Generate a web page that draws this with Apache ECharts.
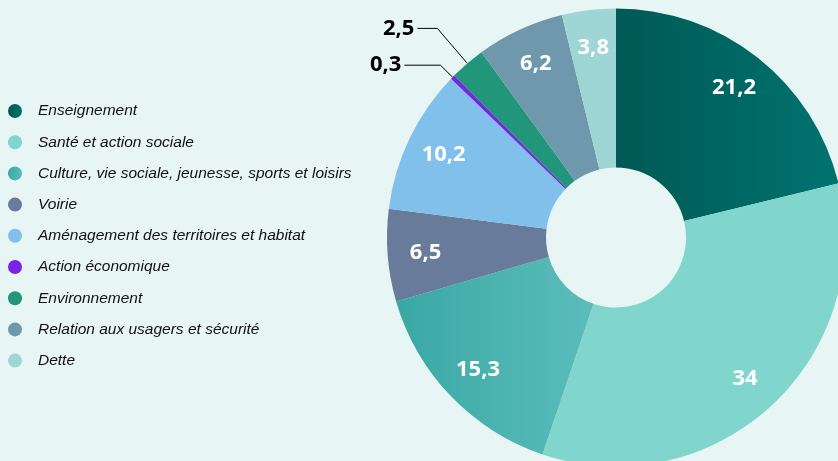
<!DOCTYPE html>
<html>
<head>
<meta charset="utf-8">
<script src="https://cdn.jsdelivr.net/npm/echarts@6/dist/echarts.min.js"></script>
<style>
  html, body { margin: 0; padding: 0; background: #e7f6f4; }
  #main { width: 838px; height: 461px; }
</style>
</head>
<body>
<div id="main"></div>
<script>
// données (en %)
var categories = [
  'Enseignement',
  'Santé et action sociale',
  'Culture, vie sociale, jeunesse, sports et loisirs',
  'Voirie',
  'Aménagement des territoires et habitat',
  'Action économique',
  'Environnement',
  'Relation aux usagers et sécurité',
  'Dette'
]
var values = [21.2, 34, 15.3, 6.5, 10.2, 0.3, 2.5, 6.2, 3.8]

// couleurs [gauche, droite] pour le dégradé horizontal
var colors = [
  ['#005955', '#00736f'],
  ['#80d5cc', '#80d5cc'],
  ['#39a8a4', '#5cbdbb'],
  ['#687b9a', '#687b9a'],
  ['#80c0ea', '#80c0ea'],
  ['#7a22e6', '#7a22e6'],
  ['#21967b', '#21967b'],
  ['#6f98ad', '#6f98ad'],
  ['#9ed6d5', '#9ed6d5']
]

function fmt(v) {
  return String(v).replace('.', ',')
}

function grad(c) {
  if (c[0] === c[1]) return c[0]
  return new echarts.graphic.LinearGradient(0, 0, 1, 0, [
    { offset: 0, color: c[0] },
    { offset: 1, color: c[1] }
  ])
}

var chart = echarts.init(document.getElementById('main'))

// les petites parts ont leur étiquette à l'extérieur
var pieData = categories.map(function (name, i) {
  var outside = values[i] < 3
  return {
    name: name,
    value: values[i],
    itemStyle: { color: grad(colors[i]) },
    label: { show: outside },
    labelLine: {
      show: outside,
      length: i === 6 ? 46 : 17,
      length2: i === 6 ? 20 : 36
    }
  }
})

var labelData = categories.map(function (name, i) {
  return {
    name: name,
    value: values[i],
    label: { show: values[i] >= 3 }
  }
})

chart.setOption({
  backgroundColor: '#e7f6f4',
  animation: false,
  legend: {
    orient: 'vertical',
    left: 8,
    top: 101,
    padding: 0,
    icon: 'circle',
    itemWidth: 14,
    itemHeight: 14,
    itemGap: 11.2,
    selectedMode: false,
    data: categories,
    textStyle: {
      fontFamily: '"Liberation Sans", sans-serif',
      fontStyle: 'italic',
      fontSize: 15.5,
      lineHeight: 20,
      color: '#111',
      padding: [0, 0, 0, 11]
    }
  },
  series: [
    {
      type: 'pie',
      center: [616, 237.5],
      radius: [70, 229],
      startAngle: 90,
      clockwise: true,
      avoidLabelOverlap: false,
      emphasis: { disabled: true },
      label: {
        position: 'outside',
        formatter: function (p) { return fmt(p.value) },
        color: '#000',
        fontFamily: '"Open Sans", sans-serif',
        fontWeight: 'bold',
        fontSize: 22,
        distanceToLabelLine: 3
      },
      labelLine: {
        lineStyle: { color: '#000', width: 1 }
      },
      data: pieData
    },
    {
      // couche pour les étiquettes intérieures
      type: 'pie',
      silent: true,
      center: [616, 237.5],
      radius: [150, 226],
      startAngle: 90,
      clockwise: true,
      emphasis: { disabled: true },
      itemStyle: { color: 'rgba(0,0,0,0)' },
      label: {
        position: 'inside',
        formatter: function (p) { return fmt(p.value) },
        color: '#fff',
        fontFamily: '"Open Sans", sans-serif',
        fontWeight: 'bold',
        fontSize: 22
      },
      labelLine: { show: false },
      data: labelData
    }
  ]
})
</script>
</body>
</html>
